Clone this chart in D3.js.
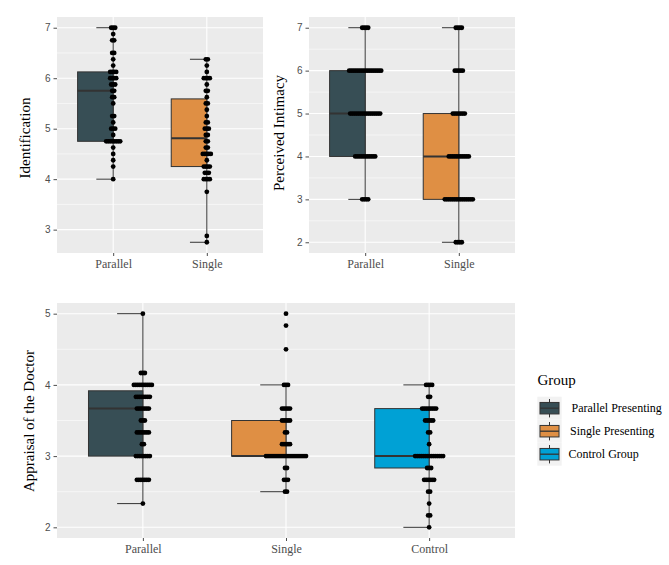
<!DOCTYPE html>
<html><head><meta charset="utf-8">
<script src="https://cdn.jsdelivr.net/npm/d3@7"></script>
<style>body{margin:0;background:#fff}svg{display:block}</style>
</head><body>
<svg id="chart" width="669" height="565"></svg>
<script>
// ---------- DATA ----------
const groupNames = ["Parallel Presenting", "Single Presenting", "Control Group"];
const groupColors = ["#374E55", "#DF8F44", "#00A1D5"];

// Panel 1: Identification
const idCategories = ["Parallel", "Single"];
const idTicks = [3, 4, 5, 6, 7];
// box stats: [lower whisker, Q1, median, Q3, upper whisker]
const idBoxParallel = [4.0, 4.75, 5.75, 6.125, 7.0];
const idBoxSingle = [2.75, 4.25, 4.8125, 5.59, 6.375];
const idValuesParallel = [7.0, 6.875, 6.75, 6.5, 6.375, 6.25, 6.125, 6.0, 5.875, 5.75, 5.625, 5.5, 5.25, 5.125, 5.0, 4.875, 4.75, 4.625, 4.5, 4.375, 4.25, 4.0];
const idCountsParallel = [3, 1, 2, 2, 1, 1, 4, 4, 3, 2, 2, 1, 2, 1, 3, 1, 8, 1, 1, 1, 1, 1];
const idValuesSingle = [6.375, 6.25, 6.125, 6.0, 5.875, 5.75, 5.625, 5.5, 5.375, 5.25, 5.125, 5.0, 4.875, 4.75, 4.625, 4.5, 4.375, 4.25, 4.125, 4.0, 3.75, 2.875, 2.75];
const idCountsSingle = [2, 1, 1, 4, 1, 2, 1, 2, 1, 1, 2, 3, 2, 2, 2, 5, 1, 4, 3, 4, 1, 1, 1];

// Panel 2: Perceived Intimacy
const piCategories = ["Parallel", "Single"];
const piTicks = [2, 3, 4, 5, 6, 7];
const piBoxParallel = [3, 4, 5, 6, 7];
const piBoxSingle = [2, 3, 4, 5, 7];
const piValuesParallel = [7, 6, 5, 4, 3];
const piCountsParallel = [4, 17, 16, 11, 4];
const piValuesSingle = [7, 6, 5, 4, 3, 2];
const piCountsSingle = [4, 5, 7, 11, 15, 4];

// Panel 3: Appraisal of the Doctor
const adCategories = ["Parallel", "Single", "Control"];
const adTicks = [2, 3, 4, 5];
const adBoxParallel = [2.333, 3.0, 3.667, 3.917, 5.0];
const adBoxSingle = [2.5, 3.0, 3.0, 3.5, 4.0];
const adBoxControl = [2.0, 2.833, 3.0, 3.667, 4.0];
const adValuesParallel = [5.0, 4.167, 4.0, 3.833, 3.667, 3.5, 3.333, 3.167, 3.0, 2.667, 2.333];
const adCountsParallel = [1, 3, 10, 8, 7, 3, 7, 2, 8, 7, 1];
const adValuesSingle = [5.0, 4.833, 4.5, 4.0, 3.667, 3.5, 3.333, 3.167, 3.0, 2.833, 2.667, 2.5];
const adCountsSingle = [1, 1, 1, 3, 5, 5, 2, 5, 21, 2, 3, 2];
const adValuesControl = [4.0, 3.833, 3.667, 3.5, 3.333, 3.167, 3.0, 2.833, 2.667, 2.5, 2.333, 2.167, 2.0];
const adCountsControl = [4, 2, 8, 5, 2, 1, 15, 3, 6, 2, 1, 2, 1];

// ---------- DRAW ----------
const svg = d3.select("#chart");
const SERIF = "'Liberation Serif','Times New Roman',serif";
const SANS = "'Liberation Sans',Arial,sans-serif";
const dotR = 2.4, dotStep = 2;

function panel(cfg) {
  const {x0, x1, y0, y1, domain, ticks, cats, boxes, values, counts, colors, label, labelX, labelY} = cfg;
  const g = svg.append("g");
  const x = d3.scalePoint().domain(cats).range([x0, x1]).padding(0.6);
  const y = d3.scaleLinear().domain(domain).range([y1, y0]);
  const unit = x.step();

  g.append("rect").attr("x", x0).attr("y", y0).attr("width", x1 - x0).attr("height", y1 - y0).attr("fill", "#EBEBEB");
  // minor grid
  const minor = d3.range(domain[0], domain[1], 0.5).map(v => Math.ceil(v * 2) / 2).filter(v => v % 1 !== 0 && v > domain[0] && v < domain[1]);
  g.selectAll(".mn").data([...new Set(minor)]).join("line")
    .attr("x1", x0).attr("x2", x1).attr("y1", d => y(d)).attr("y2", d => y(d))
    .attr("stroke", "#fff").attr("stroke-width", 0.55);
  // major grid
  g.selectAll(".mj").data(ticks).join("line")
    .attr("x1", x0).attr("x2", x1).attr("y1", d => y(d)).attr("y2", d => y(d))
    .attr("stroke", "#fff").attr("stroke-width", 1.1);
  g.selectAll(".vx").data(cats).join("line")
    .attr("x1", d => x(d)).attr("x2", d => x(d)).attr("y1", y0).attr("y2", y1)
    .attr("stroke", "#fff").attr("stroke-width", 1.1);

  // y axis
  const ya = g.append("g").attr("transform", `translate(${x0},0)`)
    .call(d3.axisLeft(y).tickValues(ticks).tickSize(3.5).tickPadding(3).tickFormat(d3.format("d")));
  ya.select(".domain").remove();
  ya.selectAll("line").attr("stroke", "#4D4D4D");
  ya.selectAll("text").attr("fill", "#4D4D4D").style("font-family", SANS).style("font-size", "10px");
  // x axis
  const xa = g.append("g").attr("transform", `translate(0,${y1})`)
    .call(d3.axisBottom(x).tickSize(3).tickPadding(3));
  xa.select(".domain").remove();
  xa.selectAll("line").attr("stroke", "#4D4D4D");
  xa.selectAll("text").attr("fill", "#4D4D4D").style("font-family", SERIF).style("font-size", "12px");

  // label
  g.append("text").attr("transform", `translate(${labelX},${labelY}) rotate(-90)`)
    .attr("text-anchor", "middle").style("font-family", SERIF).style("font-size", "15px")
    .attr("fill", "#000").text(label);

  const bw = 0.38 * unit, cw = 0.18 * unit;
  cats.forEach((c, i) => {
    const b = boxes[i], cx = x(c);
    // whisker vertical
    g.append("line").attr("x1", cx).attr("x2", cx).attr("y1", y(b[0])).attr("y2", y(b[4]))
      .attr("stroke", "#333").attr("stroke-width", 1);
    // caps
    [b[0], b[4]].forEach(v => g.append("line").attr("x1", cx - cw).attr("x2", cx).attr("y1", y(v)).attr("y2", y(v))
      .attr("stroke", "#333").attr("stroke-width", 1));
    // box (left half)
    g.append("rect").attr("x", cx - bw).attr("y", y(b[3])).attr("width", bw).attr("height", y(b[1]) - y(b[3]))
      .attr("fill", colors[i]).attr("stroke", "#333").attr("stroke-width", 1);
    g.append("line").attr("x1", cx - bw).attr("x2", cx).attr("y1", y(b[2])).attr("y2", y(b[2]))
      .attr("stroke", "#333").attr("stroke-width", 2);
    // dots
    const pts = [];
    values[i].forEach((v, k) => {
      const n = counts[i][k];
      for (let j = 0; j < n; j++) pts.push({v, dx: (j - (n - 1) / 2) * dotStep});
    });
    g.selectAll(null).data(pts).join("circle")
      .attr("cx", d => cx + d.dx).attr("cy", d => y(d.v)).attr("r", dotR).attr("fill", "#000");
  });
}

panel({x0: 57, x1: 263, y0: 17, y1: 253, domain: [2.5375, 7.2125], ticks: idTicks, cats: idCategories,
  boxes: [idBoxParallel, idBoxSingle], values: [idValuesParallel, idValuesSingle], counts: [idCountsParallel, idCountsSingle],
  colors: groupColors, label: "Identification", labelX: 30, labelY: 138});
panel({x0: 309, x1: 515, y0: 17, y1: 253, domain: [1.75, 7.25], ticks: piTicks, cats: piCategories,
  boxes: [piBoxParallel, piBoxSingle], values: [piValuesParallel, piValuesSingle], counts: [piCountsParallel, piCountsSingle],
  colors: groupColors, label: "Perceived Intimacy", labelX: 284, labelY: 133});
panel({x0: 57, x1: 515, y0: 303, y1: 538, domain: [1.85, 5.15], ticks: adTicks, cats: adCategories,
  boxes: [adBoxParallel, adBoxSingle, adBoxControl], values: [adValuesParallel, adValuesSingle, adValuesControl],
  counts: [adCountsParallel, adCountsSingle, adCountsControl],
  colors: groupColors, label: "Appraisal of the Doctor", labelX: 34, labelY: 421});

// legend
const lg = svg.append("g");
lg.append("text").attr("x", 537.5).attr("y", 385).style("font-family", SERIF).style("font-size", "15px").text("Group");
const keyY = d3.scaleBand().domain(groupNames).range([396.7, 465.7]);
const labelOffsets = [571.5, 570, 568.5];
groupNames.forEach((name, i) => {
  const ky = keyY(name), kh = keyY.bandwidth(), kx = 537.3, kw = 24.4;
  lg.append("rect").attr("x", kx).attr("y", ky).attr("width", kw).attr("height", kh).attr("fill", "#F2F2F2");
  const cx = kx + kw / 2;
  lg.append("line").attr("x1", cx).attr("x2", cx).attr("y1", ky + 0.1 * kh).attr("y2", ky + 0.9 * kh).attr("stroke", "#333").attr("stroke-width", 1);
  lg.append("rect").attr("x", kx + 0.11 * kw).attr("y", ky + 0.25 * kh).attr("width", 0.78 * kw).attr("height", 0.5 * kh)
    .attr("fill", groupColors[i]).attr("stroke", "#333").attr("stroke-width", 1);
  lg.append("line").attr("x1", kx + 0.11 * kw).attr("x2", kx + 0.89 * kw).attr("y1", ky + kh / 2).attr("y2", ky + kh / 2)
    .attr("stroke", "#333").attr("stroke-width", 1.3);
  lg.append("text").attr("x", labelOffsets[i]).attr("y", ky + kh / 2 + 4).style("font-family", SERIF).style("font-size", "12px")
    .attr("fill", "#000").text(name);
});
</script>
</body></html>
